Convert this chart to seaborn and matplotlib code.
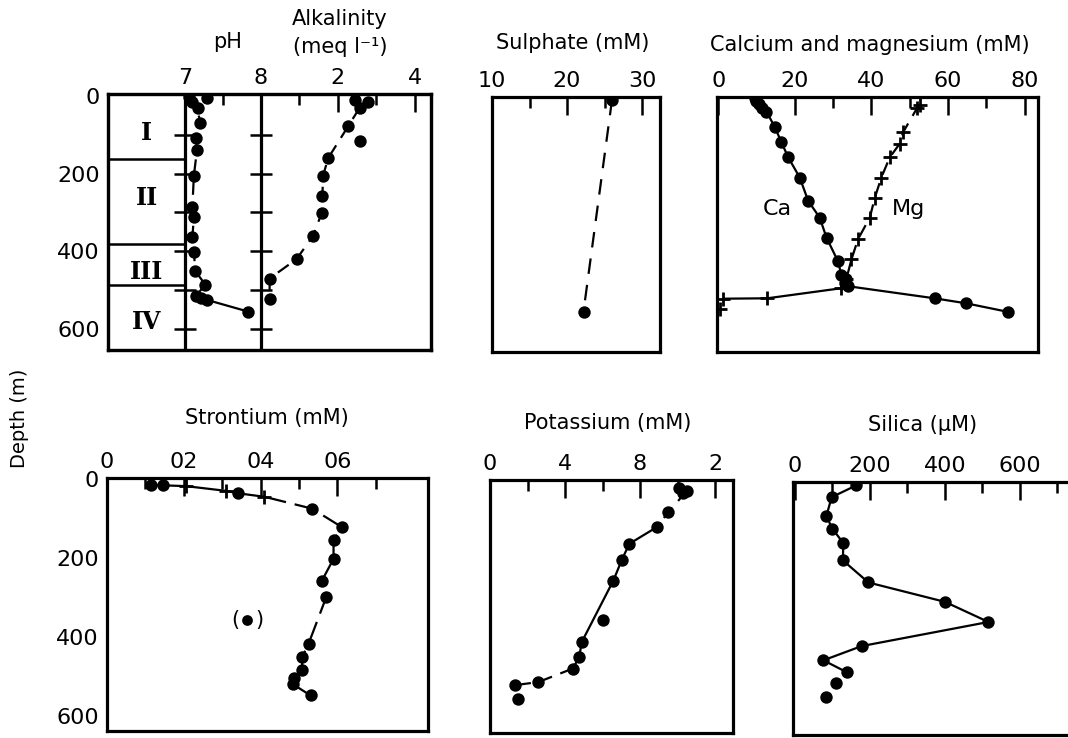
import numpy as np
import pandas as pd
import matplotlib
matplotlib.use("Agg")
import matplotlib.pyplot as plt
import seaborn as sns
from matplotlib.ticker import FixedLocator, FixedFormatter, NullFormatter

sns.set_style("white")
plt.rcParams['font.family'] = ['DejaVu Sans']

# ---------------- data ----------------
zone_bounds = [161, 382, 486]
zone_labels = ["I", "II", "III", "IV"]
zone_label_depth = [96, 262, 452, 582]

ph_depth = [2, 4, 15, 30, 70, 108, 140, 205, 286, 312, 364, 403, 451, 486, 514, 520, 525, 555]
ph_val = [7.05, 7.29, 7.10, 7.17, 7.20, 7.15, 7.16, 7.12, 7.10, 7.12, 7.10, 7.12, 7.14, 7.27, 7.15, 7.22, 7.29, 7.83]

alk_depth = [10, 15, 30, 78, 117, 160, 205, 258, 302, 360, 420, 470, 522]
alk_val = [2.44, 2.78, 2.57, 2.27, 2.57, 1.75, 1.62, 1.60, 1.58, 1.36, 0.93, 0.23, 0.23]

sul_depth = [10, 555]
sul_val = [26.0, 22.2]

ca_depth = [5, 12, 20, 30, 40, 80, 119, 158, 210, 270, 313, 365, 426, 462, 472, 482, 490, 521, 534, 556]
ca_val = [9.5, 10.0, 10.6, 11.5, 12.6, 14.8, 16.5, 18.3, 21.3, 23.5, 26.5, 28.3, 31.3, 32.2, 33.5, 33.0, 34.0, 56.5, 64.8, 75.7]

mg_depth = [22, 30, 93, 123, 158, 210, 262, 313, 369, 421, 470, 495, 521, 522, 548]
mg_val = [52.6, 52.0, 48.3, 47.4, 44.8, 42.6, 40.9, 39.6, 36.5, 34.8, 33.5, 32.2, 12.8, 1.3, 0.5]

sr_dot_depth = [14, 16, 36, 75, 122, 155, 202, 257, 299, 417, 451, 484, 505, 520, 548]
sr_dot_val = [0.114, 0.145, 0.34, 0.534, 0.612, 0.59, 0.59, 0.56, 0.571, 0.525, 0.508, 0.508, 0.487, 0.485, 0.53]
sr_cross_depth = [18, 30, 45]
sr_cross_val = [0.205, 0.31, 0.41]
sr_out_depth = [358]
sr_out_val = [0.365]

k_depth = [22, 30, 35, 84, 122, 164, 206, 257, 358, 413, 451, 480, 514, 522, 556]
k_val = [10.1, 10.5, 10.3, 9.51, 8.89, 7.43, 7.02, 6.58, 6.04, 4.89, 4.76, 4.41, 2.58, 1.33, 1.51]

si_depth = [16, 46, 94, 126, 162, 206, 262, 311, 362, 423, 459, 489, 516, 552]
si_val = [164, 98, 84, 100, 129, 128, 196, 400, 516, 178, 76, 138, 109, 84]

depth_major = [200, 400, 600]
depth_minor = [100, 300, 500]

# ---------------- figure ----------------
W, H = 1068, 738
fig = plt.figure(figsize=(W / 100, H / 100), dpi=100)
fig.patch.set_facecolor("white")

SPINE_LW = 2.3
LINE_LW = 1.6
DOT_S = 80
TICK_FS = 16
TITLE_FS = 15


def style_axis(ax):
    for s in ax.spines.values():
        s.set_visible(True)
        s.set_linewidth(SPINE_LW)
        s.set_color("black")
    ax.xaxis.set_ticks_position("top")
    ax.xaxis.set_label_position("top")
    ax.tick_params(axis="both", which="both", direction="in", color="black",
                   width=1.8, labelsize=TICK_FS, pad=4, labelcolor="black")
    ax.tick_params(axis="x", which="major", length=13)
    ax.tick_params(axis="x", which="minor", length=8)
    ax.tick_params(axis="y", which="major", length=20, pad=6)
    ax.tick_params(axis="y", which="minor", length=11)
    ax.set_xlabel("")
    ax.set_ylabel("")


def make_ax(l, r, t, b, zero, ppm, depth_labels=False):
    ax = fig.add_axes([l / W, 1 - b / H, (r - l) / W, (b - t) / H])
    ax.set_facecolor("white")
    ax.set_ylim((b - zero) / ppm, (t - zero) / ppm)
    ax.yaxis.set_major_locator(FixedLocator(([0] if depth_labels else []) + depth_major))
    ax.yaxis.set_minor_locator(FixedLocator(depth_minor))
    ax.yaxis.set_minor_formatter(NullFormatter())
    style_axis(ax)
    ax.tick_params(axis="y", labelleft=depth_labels)
    return ax


def set_xticks(ax, major, labels, minor):
    ax.xaxis.set_major_locator(FixedLocator(major))
    ax.xaxis.set_major_formatter(FixedFormatter(labels))
    ax.xaxis.set_minor_locator(FixedLocator(minor))
    ax.xaxis.set_minor_formatter(NullFormatter())


def line(ax, x, y, ls="-"):
    sns.lineplot(x=x, y=y, sort=False, estimator=None, color="black",
                 linewidth=LINE_LW, linestyle=ls, ax=ax, zorder=2)


def dots(ax, x, y, s=DOT_S):
    sns.scatterplot(x=x, y=y, color="black", s=s, linewidth=0, ax=ax, zorder=3)


def crosses(ax, x, y):
    sns.scatterplot(x=x, y=y, color="black", marker="+", s=110, linewidth=2.0, ax=ax, zorder=3)


DASH = (0, (6, 4))
LDASH = (0, (10, 4))

TOP_ZERO, TOP_PPM = 96, 0.3883
BOT_ZERO, BOT_PPM = 479, 0.395

# ---- panel 1: pH & alkalinity ----
ax1 = make_ax(108, 431, 94, 350, TOP_ZERO, TOP_PPM, depth_labels=True)
ph_lo, ph_hi = 5.99, 10.24
ax1.set_xlim(ph_lo, ph_hi)
ax1.axvline(7, color="black", lw=SPINE_LW, zorder=1)
ax1.axvline(8, color="black", lw=SPINE_LW, zorder=1)
cross_depths = [100, 200, 300, 400, 500, 600]
for xv in (7, 8):
    ax1.plot([xv] * len(cross_depths), cross_depths, linestyle="none", marker="_",
             markersize=16, mew=1.8, color="black", zorder=1)
ax1.hlines(zone_bounds, ph_lo, 7, color="black", lw=1.8)
for lab, d in zip(zone_labels, zone_label_depth):
    ax1.text(6.5, d, lab, ha="center", va="center", fontsize=17, fontweight="bold",
             family=["DejaVu Serif"], color="black")

ph_x = np.array(ph_val); ph_y = np.array(ph_depth)
dash_idx = [0, 2, 3, 4, 5, 6, 7, 8, 9, 10, 11, 12, 13, 14]
solid_idx = [14, 15, 16, 17]
line(ax1, ph_x[dash_idx], ph_y[dash_idx], DASH)
line(ax1, ph_x[solid_idx], ph_y[solid_idx], "-")
dots(ax1, ph_x, ph_y)

ax1t = ax1.twiny()
ratio = 0.5066
ax1t.set_xlim((ph_lo - 8) / ratio, (ph_hi - 8) / ratio)
alk_x = np.array(alk_val); alk_y = np.array(alk_depth)
alk_idx = [2, 3, 5, 6, 7, 8, 9, 10, 11, 12]
line(ax1t, alk_x[alk_idx], alk_y[alk_idx], DASH)
dots(ax1t, alk_x, alk_y)
style_axis(ax1t)
set_xticks(ax1t, [2, 4], ["2", "4"], [1, 3])
ax1t.set_ylim(ax1.get_ylim())

style_axis(ax1)
ax1.tick_params(axis="x", which="both", top=True, bottom=False, labeltop=True, labelbottom=False)
set_xticks(ax1, [7, 8], ["7", "8"], [7.5])
ax1.set_ylim(ax1t.get_ylim())

# ---- panel 2: sulphate ----
ax2 = make_ax(492, 660, 97, 352, TOP_ZERO, TOP_PPM)
ax2.set_xlim(10, 32.4)
line(ax2, sul_val, sul_depth, (0, (7, 5)))
dots(ax2, sul_val, sul_depth)
style_axis(ax2)
set_xticks(ax2, [10, 20, 30], ["10", "20", "30"], [15, 25])

# ---- panel 3: calcium & magnesium ----
ax3 = make_ax(717, 1038, 97, 352, TOP_ZERO, TOP_PPM)
ax3.set_xlim(-0.3, 83.5)
line(ax3, ca_val, ca_depth, "-")
mg_x = np.array(mg_val); mg_y = np.array(mg_depth)
line(ax3, mg_x[:10], mg_y[:10], DASH)
line(ax3, mg_x[9:14], mg_y[9:14], "-")
dots(ax3, ca_val, ca_depth)
crosses(ax3, mg_val, mg_depth)
ax3.text(15.5, 290, "Ca", fontsize=16, ha="center", va="center", color="black")
ax3.text(49.6, 290, "Mg", fontsize=16, ha="center", va="center", color="black")
style_axis(ax3)
set_xticks(ax3, [0, 20, 40, 60, 80], ["0", "20", "40", "60", "80"], [10, 30, 50, 70])

# ---- panel 4: strontium ----
ax4 = make_ax(107, 428, 478, 731, BOT_ZERO, BOT_PPM, depth_labels=True)
ax4.set_xlim(0, 0.836)
sr_all = pd.DataFrame({"v": sr_dot_val + sr_cross_val,
                       "d": sr_dot_depth + sr_cross_depth}).sort_values("d")
sr_top = sr_all[sr_all["d"] <= 45]
sr_bot = sr_all[sr_all["d"] >= 45]
line(ax4, sr_top["v"].values, sr_top["d"].values, "-")
line(ax4, sr_bot["v"].values, sr_bot["d"].values, LDASH)
dots(ax4, sr_dot_val, sr_dot_depth)
crosses(ax4, sr_cross_val, sr_cross_depth)
dots(ax4, sr_out_val, sr_out_depth, s=60)
for v, d in zip(sr_out_val, sr_out_depth):
    ax4.text(v - 0.031, d, "(", fontsize=15, ha="center", va="center", color="black")
    ax4.text(v + 0.031, d, ")", fontsize=15, ha="center", va="center", color="black")
style_axis(ax4)
set_xticks(ax4, [0, 0.2, 0.4, 0.6], ["0", "02", "04", "06"], [0.1, 0.3, 0.5, 0.7])

# ---- panel 5: potassium ----
ax5 = make_ax(490, 733, 480, 733, BOT_ZERO, BOT_PPM)
ax5.set_xlim(0, 12.96)
k_x = np.array(k_val); k_y = np.array(k_depth)
line(ax5, k_x[[1, 3, 4]], k_y[[1, 3, 4]], DASH)
solid_k = [4, 5, 6, 7, 9, 10, 11]
line(ax5, k_x[solid_k], k_y[solid_k], "-")
line(ax5, k_x[[11, 12, 13]], k_y[[11, 12, 13]], DASH)
dots(ax5, k_val, k_depth)
style_axis(ax5)
set_xticks(ax5, [0, 4, 8, 12], ["0", "4", "8", "2"], [2, 6, 10])

# ---- panel 6: silica ----
ax6 = make_ax(793, 1080, 482, 735, BOT_ZERO, BOT_PPM)
ax6.set_xlim(-5, 760)
si_x = np.array(si_val); si_y = np.array(si_depth)
line(ax6, si_x[:12], si_y[:12], "-")
dots(ax6, si_val, si_depth)
style_axis(ax6)
set_xticks(ax6, [0, 200, 400, 600], ["0", "200", "400", "600"], [100, 300, 500, 700])

# ---- titles ----
def ftext(x, y, s, **kw):
    fig.text(x / W, 1 - y / H, s, ha="center", va="center", color="black", **kw)

ftext(228, 42, "pH", fontsize=TITLE_FS)
ftext(340, 19, "Alkalinity", fontsize=TITLE_FS)
ftext(340, 47, "(meq l\u207b\u00b9)", fontsize=TITLE_FS)
ftext(573, 43, "Sulphate (mM)", fontsize=TITLE_FS)
ftext(870, 45, "Calcium and magnesium (mM)", fontsize=TITLE_FS)
ftext(267, 418, "Strontium (mM)", fontsize=TITLE_FS)
ftext(608, 423, "Potassium (mM)", fontsize=TITLE_FS)
ftext(923, 425, "Silica (\u03bcM)", fontsize=TITLE_FS)
ftext(20, 418, "Depth (m)", fontsize=14, rotation=90)

fig.savefig("out.png", dpi=100, facecolor="white")
